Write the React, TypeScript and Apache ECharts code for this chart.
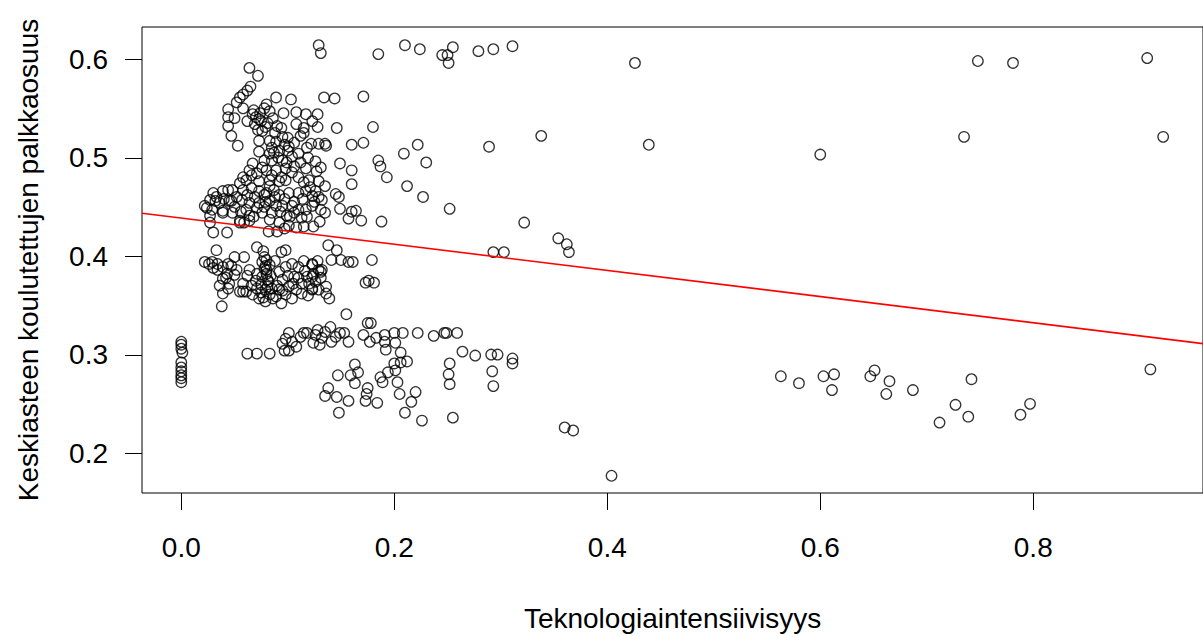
import React, { useEffect, useRef } from "react";
import * as echarts from "echarts";

// Axis extents (R style: data range extended by 4%)
const X_MIN = -0.0369;
const X_MAX = 0.9594;
const Y_MIN = 0.1595;
const Y_MAX = 0.6325;
const X_TICKS = [0, 0.2, 0.4, 0.6, 0.8];
const Y_TICKS = [0.2, 0.3, 0.4, 0.5, 0.6];

// Regression line (abline)
const INTERCEPT = 0.4386;
const SLOPE = -0.1329;

const X_TITLE = "Teknologiaintensiivisyys";
const Y_TITLE = "Keskiasteen koulutettujen palkkaosuus";

// Observations [Teknologiaintensiivisyys, palkkaosuus]
const zeroColumn = [
  [0, 0.313], [0, 0.31], [0, 0.306], [0.001, 0.302], [0, 0.292], [0, 0.287],
  [0, 0.283], [0, 0.279], [0, 0.276], [0, 0.272],
];

const upperArm = [
  [0.064, 0.591], [0.072, 0.583], [0.065, 0.572], [0.062, 0.568], [0.058, 0.564],
  [0.055, 0.561], [0.052, 0.556], [0.044, 0.549], [0.044, 0.541], [0.044, 0.532],
  [0.047, 0.522], [0.053, 0.512],
];

const upperCluster = [
  [0.089, 0.561], [0.103, 0.559], [0.134, 0.561], [0.108, 0.546], [0.117, 0.544],
  [0.128, 0.544], [0.108, 0.534], [0.128, 0.531], [0.122, 0.514], [0.129, 0.514],
  [0.135, 0.514], [0.09, 0.532], [0.08, 0.554], [0.083, 0.547], [0.067, 0.544],
  [0.062, 0.537], [0.073, 0.539], [0.069, 0.534], [0.076, 0.527], [0.073, 0.517],
  [0.083, 0.517], [0.089, 0.516], [0.095, 0.521], [0.101, 0.511], [0.092, 0.507],
  [0.083, 0.504], [0.073, 0.506], [0.078, 0.497], [0.085, 0.497], [0.095, 0.497],
  [0.104, 0.501], [0.11, 0.504], [0.067, 0.494], [0.064, 0.487], [0.071, 0.484],
  [0.08, 0.487], [0.089, 0.487], [0.098, 0.489], [0.106, 0.491], [0.117, 0.489],
  [0.127, 0.486], [0.12, 0.477], [0.129, 0.476], [0.135, 0.471], [0.092, 0.476],
  [0.098, 0.477], [0.083, 0.477], [0.073, 0.476], [0.061, 0.477], [0.055, 0.474],
  [0.058, 0.467], [0.066, 0.469], [0.073, 0.466], [0.08, 0.464], [0.087, 0.467],
  [0.092, 0.462], [0.101, 0.464], [0.11, 0.464], [0.117, 0.466], [0.123, 0.461],
  [0.132, 0.457], [0.048, 0.467], [0.039, 0.466], [0.03, 0.464], [0.027, 0.457],
  [0.022, 0.451], [0.029, 0.447], [0.036, 0.454], [0.045, 0.456], [0.039, 0.444],
  [0.048, 0.444], [0.057, 0.457], [0.064, 0.454], [0.061, 0.447], [0.073, 0.454],
  [0.083, 0.456], [0.089, 0.451], [0.095, 0.451], [0.104, 0.451], [0.11, 0.447],
  [0.117, 0.447], [0.123, 0.451], [0.131, 0.447], [0.135, 0.444], [0.085, 0.444],
  [0.076, 0.444], [0.064, 0.441], [0.055, 0.434], [0.059, 0.434], [0.083, 0.437],
  [0.092, 0.434], [0.101, 0.431], [0.108, 0.429], [0.027, 0.441], [0.027, 0.434],
  [0.07, 0.541], [0.075, 0.537], [0.079, 0.531], [0.097, 0.513], [0.085, 0.51],
  [0.078, 0.462], [0.083, 0.471], [0.106, 0.444], [0.113, 0.439], [0.099, 0.441],
  [0.071, 0.449], [0.024, 0.449], [0.032, 0.456], [0.044, 0.467], [0.047, 0.456],
  [0.039, 0.446], [0.055, 0.436], [0.064, 0.436], [0.03, 0.424], [0.043, 0.424],
];

const upperDense = [
  [0.068, 0.548], [0.074, 0.545], [0.078, 0.55], [0.086, 0.54], [0.081, 0.535],
  [0.072, 0.528], [0.088, 0.525], [0.094, 0.53], [0.1, 0.52], [0.106, 0.515],
  [0.112, 0.522], [0.118, 0.51], [0.087, 0.505], [0.091, 0.5], [0.099, 0.495],
  [0.104, 0.485], [0.11, 0.48], [0.115, 0.475], [0.121, 0.47], [0.126, 0.466],
  [0.114, 0.458], [0.106, 0.455], [0.097, 0.458], [0.088, 0.46], [0.079, 0.455],
  [0.069, 0.46], [0.062, 0.462], [0.052, 0.46], [0.05, 0.45], [0.056, 0.445],
  [0.068, 0.44], [0.078, 0.45], [0.093, 0.445], [0.102, 0.44], [0.118, 0.44],
  [0.125, 0.455], [0.129, 0.46], [0.033, 0.46], [0.04, 0.458], [0.058, 0.48],
  [0.066, 0.482], [0.076, 0.49], [0.085, 0.482], [0.094, 0.48], [0.112, 0.495],
  [0.119, 0.5], [0.126, 0.496], [0.131, 0.49], [0.1, 0.507], [0.115, 0.53],
  [0.123, 0.537], [0.096, 0.545], [0.058, 0.55], [0.05, 0.54], [0.082, 0.425],
  [0.09, 0.425], [0.097, 0.428], [0.115, 0.43], [0.124, 0.43], [0.13, 0.435],
];

const upperRight = [
  [0.144, 0.56], [0.146, 0.53], [0.16, 0.513], [0.149, 0.494], [0.16, 0.487],
  [0.16, 0.473], [0.145, 0.463], [0.148, 0.46], [0.149, 0.448], [0.16, 0.445],
  [0.157, 0.438], [0.164, 0.446], [0.169, 0.436], [0.188, 0.435], [0.171, 0.562],
  [0.115, 0.525], [0.18, 0.531], [0.136, 0.512], [0.171, 0.515], [0.222, 0.513],
  [0.209, 0.504], [0.289, 0.511], [0.185, 0.497], [0.187, 0.491], [0.193, 0.48],
  [0.23, 0.495], [0.212, 0.471], [0.227, 0.46], [0.252, 0.448], [0.322, 0.434],
  [0.293, 0.404], [0.303, 0.404], [0.354, 0.418], [0.362, 0.412], [0.364, 0.404],
  [0.338, 0.522], [0.439, 0.513],
];

const topRow = [
  [0.129, 0.614], [0.131, 0.606], [0.185, 0.605], [0.21, 0.614], [0.224, 0.61],
  [0.245, 0.604], [0.25, 0.604], [0.255, 0.612], [0.251, 0.596], [0.279, 0.608],
  [0.293, 0.61], [0.311, 0.613], [0.426, 0.596],
];

const midCluster = [
  [0.071, 0.409], [0.033, 0.406], [0.094, 0.404], [0.098, 0.406], [0.05, 0.399],
  [0.059, 0.399], [0.022, 0.394], [0.029, 0.394], [0.034, 0.392], [0.039, 0.389],
  [0.044, 0.392], [0.034, 0.386], [0.043, 0.382], [0.05, 0.381], [0.039, 0.377],
  [0.045, 0.372], [0.044, 0.367], [0.039, 0.362], [0.038, 0.349], [0.064, 0.386],
  [0.071, 0.382], [0.08, 0.396], [0.083, 0.391], [0.08, 0.386], [0.076, 0.379],
  [0.081, 0.376], [0.075, 0.371], [0.071, 0.367], [0.058, 0.364], [0.055, 0.364],
  [0.067, 0.361], [0.073, 0.357], [0.083, 0.361], [0.089, 0.359], [0.085, 0.367],
  [0.092, 0.366], [0.095, 0.376], [0.092, 0.384], [0.098, 0.389], [0.104, 0.392],
  [0.11, 0.389], [0.106, 0.379], [0.101, 0.369], [0.098, 0.361], [0.104, 0.357],
  [0.108, 0.366], [0.113, 0.372], [0.118, 0.379], [0.123, 0.392], [0.124, 0.382],
  [0.129, 0.386], [0.123, 0.367], [0.113, 0.362], [0.132, 0.386], [0.076, 0.394],
  [0.078, 0.387], [0.075, 0.363], [0.079, 0.354], [0.078, 0.399], [0.081, 0.369],
  [0.084, 0.38], [0.061, 0.364], [0.123, 0.391], [0.123, 0.379], [0.131, 0.384],
  [0.123, 0.366], [0.136, 0.369], [0.136, 0.362], [0.139, 0.357],
];

const midDense = [
  [0.077, 0.405], [0.079, 0.39], [0.08, 0.382], [0.082, 0.374], [0.079, 0.366],
  [0.077, 0.358], [0.086, 0.357], [0.09, 0.37], [0.095, 0.365], [0.1, 0.38],
  [0.105, 0.372], [0.11, 0.378], [0.116, 0.385], [0.12, 0.372], [0.126, 0.374],
  [0.131, 0.378], [0.128, 0.395], [0.115, 0.395], [0.088, 0.395], [0.062, 0.38],
  [0.058, 0.372], [0.066, 0.37], [0.07, 0.375], [0.03, 0.388], [0.026, 0.392],
  [0.047, 0.39], [0.052, 0.386], [0.036, 0.37], [0.042, 0.378], [0.119, 0.36],
  [0.129, 0.366], [0.094, 0.352],
];

const midRight = [
  [0.138, 0.411], [0.146, 0.406], [0.141, 0.396], [0.15, 0.396], [0.157, 0.394],
  [0.161, 0.394], [0.179, 0.396], [0.173, 0.373], [0.176, 0.375], [0.181, 0.373],
  [0.155, 0.341], [0.175, 0.332], [0.178, 0.332],
];

const band030 = [
  [0.062, 0.301], [0.071, 0.301], [0.083, 0.301], [0.095, 0.311], [0.098, 0.316],
  [0.101, 0.304], [0.097, 0.304], [0.118, 0.322], [0.101, 0.322], [0.115, 0.322],
  [0.126, 0.32], [0.135, 0.323], [0.14, 0.328], [0.132, 0.317], [0.141, 0.313],
  [0.149, 0.322], [0.157, 0.313], [0.124, 0.312], [0.104, 0.313], [0.171, 0.32],
  [0.177, 0.313], [0.183, 0.317], [0.191, 0.32], [0.191, 0.313], [0.192, 0.305],
  [0.2, 0.322], [0.208, 0.322], [0.201, 0.312], [0.222, 0.322], [0.237, 0.319],
  [0.247, 0.322], [0.249, 0.322], [0.259, 0.322], [0.206, 0.302], [0.212, 0.293],
  [0.264, 0.303], [0.276, 0.299], [0.291, 0.3], [0.297, 0.3], [0.311, 0.296],
  [0.311, 0.291], [0.252, 0.291], [0.251, 0.28], [0.252, 0.27], [0.292, 0.283],
  [0.293, 0.268], [0.112, 0.318], [0.128, 0.325], [0.145, 0.318], [0.153, 0.322],
  [0.13, 0.31], [0.108, 0.308],
];

const lowBand = [
  [0.147, 0.279], [0.159, 0.279], [0.166, 0.282], [0.163, 0.29], [0.187, 0.277],
  [0.194, 0.282], [0.201, 0.284], [0.2, 0.291], [0.206, 0.292], [0.203, 0.272],
  [0.189, 0.272], [0.163, 0.271], [0.175, 0.266], [0.174, 0.26], [0.138, 0.266],
  [0.135, 0.258], [0.146, 0.257], [0.157, 0.253], [0.173, 0.253], [0.184, 0.251],
  [0.148, 0.241], [0.205, 0.26], [0.22, 0.262], [0.216, 0.252], [0.21, 0.241],
  [0.226, 0.233], [0.255, 0.236], [0.36, 0.226], [0.368, 0.223], [0.404, 0.177],
];

const farRight = [
  [0.563, 0.278], [0.58, 0.271], [0.603, 0.278], [0.613, 0.28], [0.611, 0.264],
  [0.647, 0.278], [0.651, 0.284], [0.665, 0.273], [0.662, 0.26], [0.687, 0.264],
  [0.742, 0.275], [0.727, 0.249], [0.712, 0.231], [0.739, 0.237], [0.788, 0.239],
  [0.797, 0.25], [0.91, 0.285], [0.6, 0.503], [0.748, 0.598], [0.781, 0.596],
  [0.907, 0.601], [0.735, 0.521], [0.922, 0.521],
];

const FONT = "'Liberation Sans', Arial, Helvetica, sans-serif";
const TICK_LEN = 17;

export default function App() {
  const ref = useRef<HTMLDivElement>(null);

  useEffect(() => {
    if (!ref.current) return;
    const chart = echarts.init(ref.current, undefined, { renderer: "svg" });
    const points = [
      ...zeroColumn, ...upperArm, ...upperCluster, ...upperDense, ...upperRight,
      ...topRow, ...midCluster, ...midDense, ...midRight, ...band030, ...lowBand,
      ...farRight,
    ];
    const lineData = [
      [X_MIN, INTERCEPT + SLOPE * X_MIN],
      [X_MAX, INTERCEPT + SLOPE * X_MAX],
    ];
    chart.setOption({
      animation: false,
      backgroundColor: "#ffffff",
      grid: {
        left: 142,
        top: 27,
        width: 1073,
        height: 473,
        show: true,
        borderColor: "#000",
        borderWidth: 1,
        backgroundColor: "transparent",
      },
      xAxis: {
        type: "value",
        position: "bottom",
        min: X_MIN,
        max: X_MAX,
        name: X_TITLE,
        nameLocation: "middle",
        nameGap: 111,
        nameTextStyle: { fontFamily: FONT, fontSize: 28, color: "#000" },
        axisLine: { show: false, onZero: false },
        splitLine: { show: false },
        axisTick: { show: false },
        axisLabel: {
          customValues: X_TICKS,
          margin: 40,
          fontFamily: FONT,
          fontSize: 28,
          color: "#000",
          formatter: (v: number) => v.toFixed(1),
        },
      },
      yAxis: {
        type: "value",
        position: "left",
        min: Y_MIN,
        max: Y_MAX,
        name: Y_TITLE,
        nameLocation: "middle",
        nameGap: 100,
        nameTextStyle: { fontFamily: FONT, fontSize: 28, color: "#000" },
        axisLine: { show: false, onZero: false },
        splitLine: { show: false },
        axisTick: { show: false },
        axisLabel: {
          customValues: Y_TICKS,
          margin: 34,
          fontFamily: FONT,
          fontSize: 28,
          color: "#000",
          formatter: (v: number) => v.toFixed(1),
        },
      },
      series: [
        {
          type: "scatter",
          data: points,
          symbol: "circle",
          symbolSize: 10.5,
          itemStyle: {
            color: "rgba(0,0,0,0)",
            borderColor: "#000",
            borderWidth: 1.3,
          },
          emphasis: { disabled: true },
          clip: false,
        },
        {
          type: "line",
          data: lineData,
          symbol: "none",
          lineStyle: { color: "#ff0000", width: 1.6 },
          emphasis: { disabled: true },
          clip: false,
        },
      ],
    });

    // Tick marks positioned through the chart's own axis scales
    const tickEls: any[] = [];
    X_TICKS.forEach((v) => {
      const p = chart.convertToPixel({ gridIndex: 0 }, [v, Y_MIN]) as number[];
      tickEls.push({
        type: "rect",
        silent: true,
        z: 10,
        shape: { x: Math.round(p[0]), y: Math.round(p[1]), width: 1, height: TICK_LEN },
        style: { fill: "#000" },
      });
    });
    Y_TICKS.forEach((v) => {
      const p = chart.convertToPixel({ gridIndex: 0 }, [X_MIN, v]) as number[];
      tickEls.push({
        type: "rect",
        silent: true,
        z: 10,
        shape: { x: Math.round(p[0]) - TICK_LEN, y: Math.round(p[1]), width: TICK_LEN, height: 1 },
        style: { fill: "#000" },
      });
    });
    chart.setOption({ graphic: { elements: tickEls } });

    return () => chart.dispose();
  }, []);

  return (
    <div
      ref={ref}
      style={{ position: "absolute", left: 0, top: 0, width: 1203, height: 637 }}
    />
  );
}
